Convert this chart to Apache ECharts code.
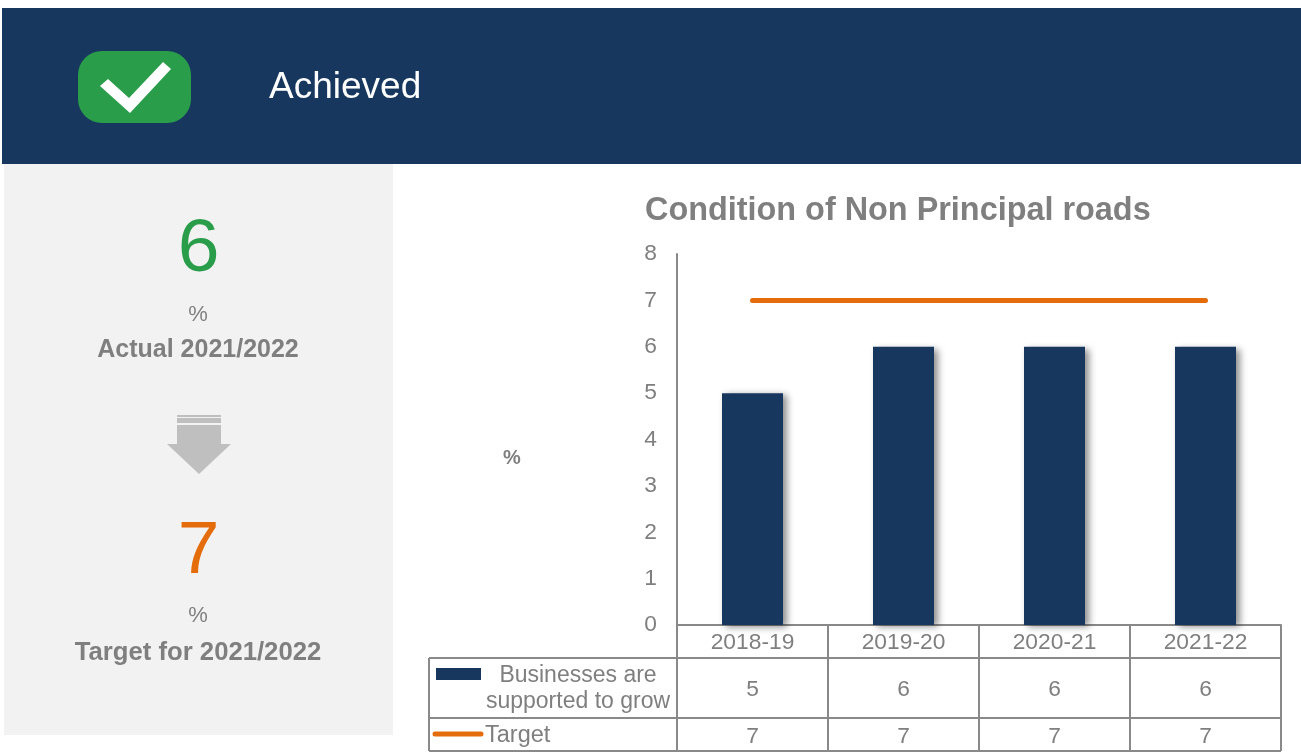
<!DOCTYPE html>
<html>
<head>
<meta charset="utf-8">
<title>Condition of Non Principal roads</title>
<style>
  html, body { margin: 0; padding: 0; background: #fff; }
  #main { width: 1301px; height: 752px; }
</style>
<script src="https://cdn.jsdelivr.net/npm/echarts@6/dist/echarts.min.js"></script>
</head>
<body>
<div id="main"></div>
<script>
// chart data
const years = ['2018-19', '2019-20', '2020-21', '2021-22'];
const actual = [5, 6, 6, 6];
const target = [7, 7, 7, 7];
const yTicks = [0, 1, 2, 3, 4, 5, 6, 7, 8];
const barName = 'Businesses are supported to grow';
const lineName = 'Target';
const chartTitle = 'Condition of Non Principal roads';
const statusText = 'Achieved';
const actualNow = 6;
const targetNow = 7;

const FONT = '"Liberation Sans", Arial, sans-serif';
const NAVY = '#17375e';
const ORANGE = '#e46c0a';
const GREEN = '#2a9d4b';
const GREY = '#7f7f7f';
const RULE = '#898989';

const chart = echarts.init(document.getElementById('main'), null, { renderer: 'canvas' });

function txt(x, y, text, size, color, opts) {
    return {
        type: 'text', x: x, y: y, z: 10, silent: true,
        style: Object.assign({
            text: text, fill: color, font: size + 'px ' + FONT,
            textAlign: 'center', textVerticalAlign: 'middle'
        }, opts || {})
    };
}
function rule(x1, y1, x2, y2) {
    return {
        type: 'line', z: 9, silent: true,
        shape: { x1: x1, y1: y1, x2: x2, y2: y2 },
        style: { stroke: RULE, lineWidth: 2 }
    };
}
function box(x, y, w, h, fill, r) {
    return {
        type: 'rect', z: 1, silent: true,
        shape: { x: x, y: y, width: w, height: h, r: r || 0 },
        style: { fill: fill }
    };
}
function poly(points, fill) {
    return { type: 'polygon', z: 2, silent: true, shape: { points: points }, style: { fill: fill } };
}

// header and left panel
const chrome = [
    box(2, 8, 1299, 156, NAVY),
    box(78, 51, 113, 72, GREEN, 24),
    poly([[100, 86], [108, 79], [129, 98], [163, 62], [171, 69], [130, 113]], '#fff'),
    txt(269, 88, statusText, 37, '#fff', { textAlign: 'left' }),
    box(4, 164, 389, 571, '#f2f2f2'),
    txt(198.5, 250, String(actualNow), 75, GREEN),
    txt(198, 315, '%', 22, GREY),
    txt(198, 350, 'Actual 2021/2022', 25, GREY, { font: 'bold 25px ' + FONT }),
    box(177, 415, 44, 2, '#bfbfbf'),
    box(177, 418, 44, 5, '#bfbfbf'),
    box(177, 425, 44, 20, '#bfbfbf'),
    poly([[167, 444], [231, 444], [199, 474]], '#bfbfbf'),
    txt(198.5, 552, String(targetNow), 75, ORANGE),
    txt(198, 616, '%', 22, GREY),
    txt(198, 653, 'Target for 2021/2022', 25.7, GREY, { font: 'bold 25.7px ' + FONT }),
    txt(512, 458, '%', 20, GREY, { font: 'bold 20px ' + FONT })
];

const option = {
    animation: false,
    backgroundColor: '#fff',
    textStyle: { fontFamily: FONT },
    title: {
        text: chartTitle, left: 645, top: 195, padding: 0,
        textStyle: { color: GREY, fontSize: 32.4, fontWeight: 'bold', fontFamily: FONT }
    },
    grid: { left: 677, right: 20, top: 254, height: 371, containLabel: false },
    xAxis: {
        type: 'category', data: years,
        axisLine: { lineStyle: { color: RULE, width: 2 } },
        axisTick: { show: false },
        axisLabel: { color: GREY, fontSize: 22.8, fontFamily: FONT, margin: 6 }
    },
    yAxis: {
        type: 'value', min: 0, max: yTicks[yTicks.length - 1], interval: 1,
        axisLine: { show: true, lineStyle: { color: RULE, width: 2 } },
        axisTick: { show: false },
        splitLine: { show: false },
        axisLabel: { color: GREY, fontSize: 22.8, fontFamily: FONT, margin: 20, padding: [3, 0, 0, 0] }
    },
    series: [
        {
            name: barName, type: 'bar', data: actual, barWidth: 61,
            itemStyle: {
                color: NAVY, shadowColor: 'rgba(0,0,0,0.45)',
                shadowBlur: 7, shadowOffsetX: 4, shadowOffsetY: 2
            }
        },
        {
            name: lineName, type: 'line', data: target, showSymbol: false, symbol: 'none',
            lineStyle: { color: ORANGE, width: 5, cap: 'round' }
        }
    ],
    graphic: { elements: chrome }
};
chart.setOption(option);

// data table under the plot, columns follow the category axis
const bottom = 625, row1 = 658, row2 = 718, row3 = 751, tableLeft = 429;
const centres = years.map((y) => chart.convertToPixel({ xAxisIndex: 0 }, y));
const step = centres[1] - centres[0];
const edges = [centres[0] - step / 2].concat(centres.map((c) => c + step / 2));

const table = [
    rule(tableLeft, row1, edges[4], row1),
    rule(tableLeft, row2, edges[4], row2),
    rule(tableLeft, row3, edges[4], row3),
    rule(tableLeft, row1, tableLeft, row3)
];
edges.forEach((x) => table.push(rule(x, bottom, x, row3)));
centres.forEach((c, i) => {
    table.push(txt(c, 690, String(actual[i]), 22.8, GREY));
    table.push(txt(c, 737, String(target[i]), 22.8, GREY));
});
table.push(box(436, 668, 45, 12, NAVY));
table.push(txt(578, 676, 'Businesses are', 23, GREY));
table.push(txt(578, 702, 'supported to grow', 23, GREY));
table.push({
    type: 'line', z: 9, silent: true,
    shape: { x1: 435, y1: 734, x2: 481, y2: 734 },
    style: { stroke: ORANGE, lineWidth: 5, lineCap: 'round' }
});
table.push(txt(485, 736, lineName, 23.5, GREY, { textAlign: 'left' }));

chart.setOption({ graphic: { elements: chrome.concat(table) } });
</script>
</body>
</html>
